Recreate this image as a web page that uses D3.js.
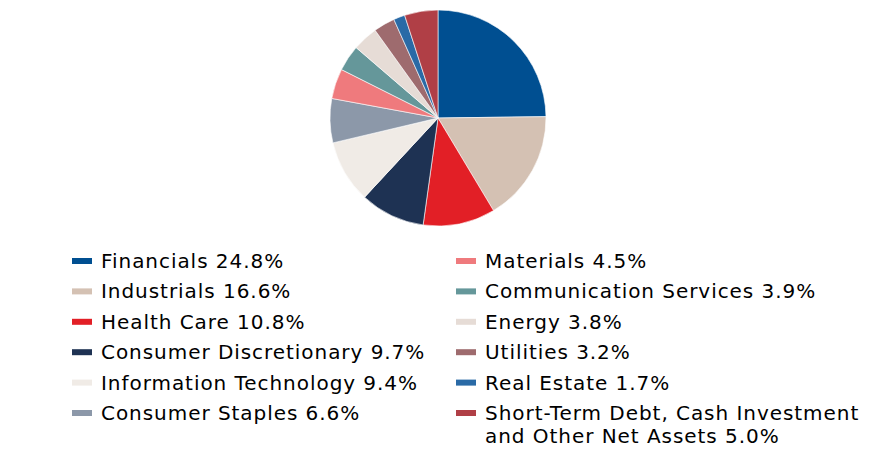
<!DOCTYPE html>
<html>
<head>
<meta charset="utf-8">
<script src="https://cdn.jsdelivr.net/npm/d3@7"></script>
<style>
  body { margin: 0; background: #fff; }
  text { font-family: "DejaVu Sans", Verdana, sans-serif; }
</style>
</head>
<body>
<div id="chart"></div>
<script>
// Sector weights, clockwise from 12 o'clock
const sectors = ["Financials", "Industrials", "Health Care", "Consumer Discretionary",
  "Information Technology", "Consumer Staples", "Materials", "Communication Services",
  "Energy", "Utilities", "Real Estate", "Short-Term Debt, Cash Investment and Other Net Assets"];
const weights = [24.8, 16.6, 10.8, 9.7, 9.4, 6.6, 4.5, 3.9, 3.8, 3.2, 1.7, 5.0];
const colors = ["#004f91", "#d4c1b3", "#e21f26", "#1e3253", "#f0ebe6", "#8c98a9",
  "#ef7a7d", "#65979a", "#e6dcd6", "#9e6b6e", "#2a6aa6", "#b03f46"];
// legend label lines (last one wraps)
const legendLines = [
  ["Financials 24.8%"], ["Industrials 16.6%"], ["Health Care 10.8%"],
  ["Consumer Discretionary 9.7%"], ["Information Technology 9.4%"], ["Consumer Staples 6.6%"],
  ["Materials 4.5%"], ["Communication Services 3.9%"], ["Energy 3.8%"],
  ["Utilities 3.2%"], ["Real Estate 1.7%"], ["Short-Term Debt, Cash Investment", "and Other Net Assets 5.0%"]
];

const width = 876, height = 456;
const cx = 438, cy = 118, radius = 108;

const svg = d3.select("#chart").append("svg")
  .attr("width", width)
  .attr("height", height);

const data = sectors.map((s, i) => ({ name: s, value: weights[i], color: colors[i], lines: legendLines[i] }));

const pie = d3.pie().value(d => d.value).sort(null);
const arc = d3.arc().innerRadius(0).outerRadius(radius);

svg.append("g")
  .attr("transform", `translate(${cx},${cy})`)
  .selectAll("path")
  .data(pie(data))
  .enter().append("path")
  .attr("d", arc)
  .attr("fill", d => d.data.color)
  .attr("stroke", "#fff")
  .attr("stroke-width", 0.6);

// Legend: two columns of six
const colX = [72, 456], row0 = 261, rowStep = 30.4;

const item = svg.append("g").selectAll("g")
  .data(data)
  .enter().append("g")
  .attr("transform", (d, i) => `translate(${colX[Math.floor(i / 6)]},${row0 + (i % 6) * rowStep})`);

item.append("rect")
  .attr("x", 0).attr("y", -3)
  .attr("width", 20).attr("height", 6)
  .attr("fill", d => d.color);

item.append("text")
  .attr("x", 29)
  .style("font-size", "20px")
  .style("letter-spacing", "0.95px")
  .attr("fill", "#000")
  .selectAll("tspan")
  .data(d => d.lines)
  .enter().append("tspan")
  .attr("x", 29)
  .attr("y", (d, i) => i * 23)
  .attr("dy", "0.35em")
  .text(d => d);
</script>
</body>
</html>
